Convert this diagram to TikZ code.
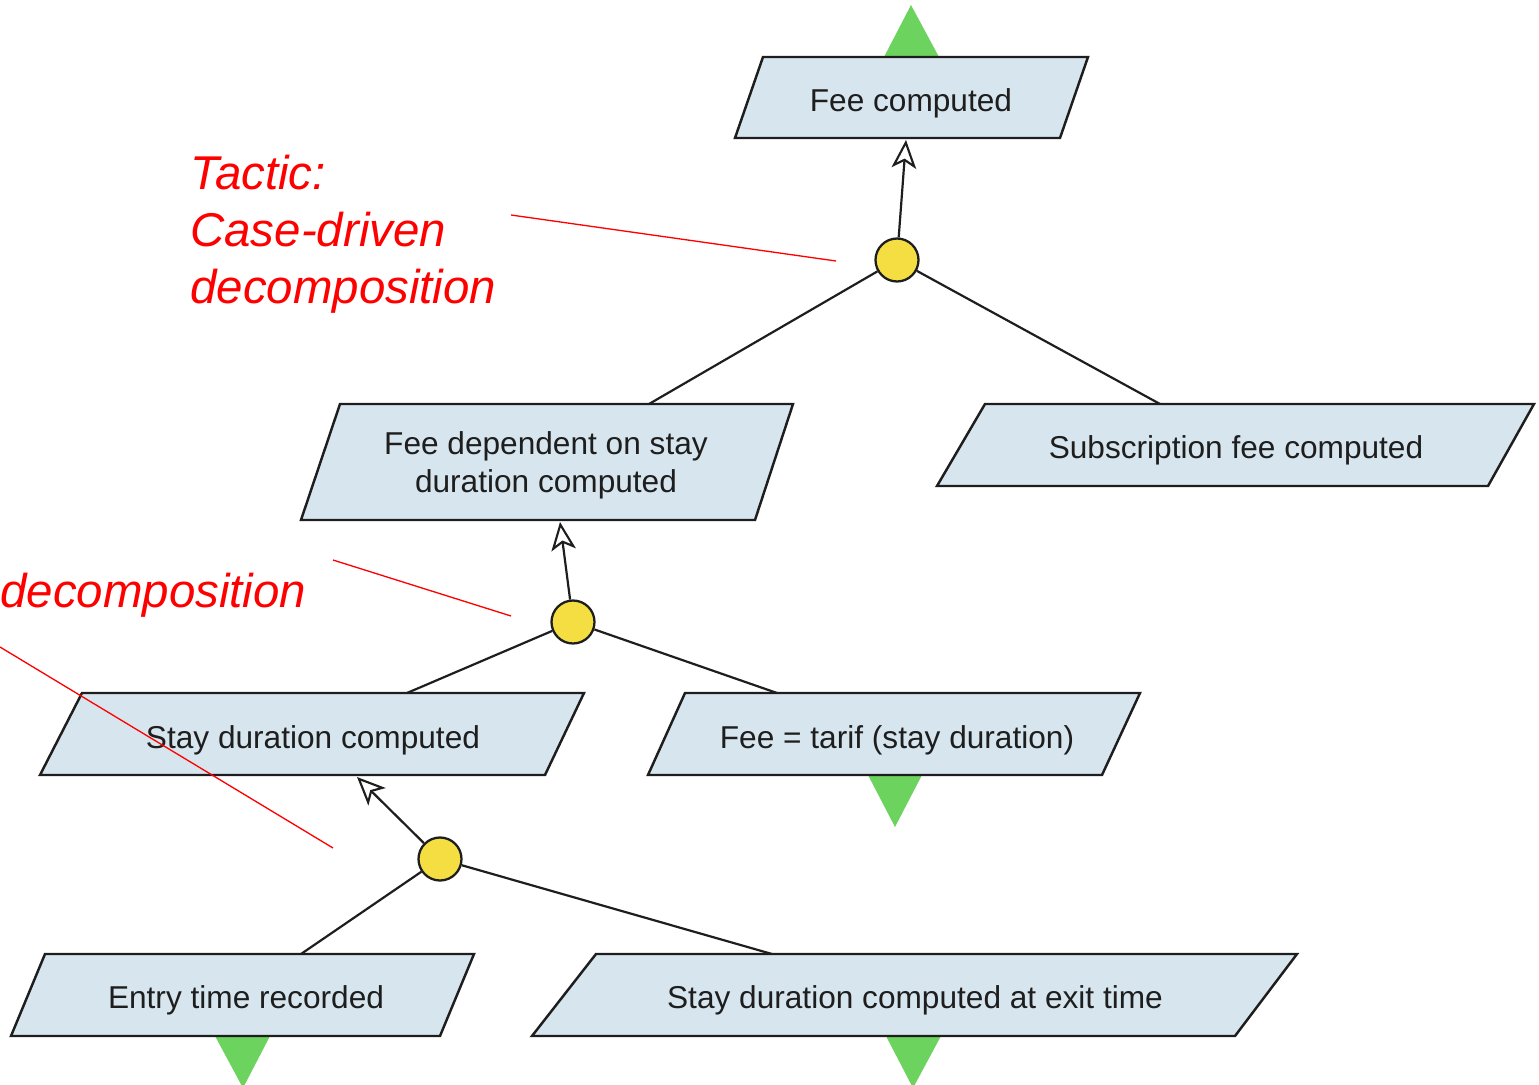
\documentclass[tikz,border=0pt]{standalone}
\usepackage{fontspec}
\setmainfont{Liberation Sans}
\usetikzlibrary{arrows.meta}

\definecolor{boxfill}{RGB}{215,230,238}
\definecolor{knotfill}{RGB}{245,222,66}
\definecolor{goalgreen}{RGB}{108,211,94}
\definecolor{ink}{RGB}{30,30,30}

\tikzset{
  goalbox/.style={draw=ink, line width=1.4pt, fill=boxfill, line join=miter},
  goaltext/.style={text=ink, font=\fontsize{18}{22}\selectfont, align=center, inner sep=0pt, anchor=north},
  knot/.style={circle, draw=ink, line width=1.3pt, fill=knotfill, minimum size=0.86cm, inner sep=0pt},
  link/.style={draw=ink, line width=1.25pt},
  refine/.style={link, -{Stealth[open, fill=white, length=16pt, width=14pt, inset=4pt, line width=1.2pt]}},
  tactic/.style={text=red, font=\fontsize{27}{32.3}\selectfont\itshape, inner sep=0pt, align=left},
  tacticline/.style={red, line width=0.75pt},
  tipmark/.style={fill=goalgreen, draw=none}
}

\begin{document}
\begin{tikzpicture}[x=0.02cm, y=-0.02cm]
  \useasboundingbox (0,0) rectangle (1539,1085);

  % green goal markers
  \fill[tipmark] (884,57) -- (911,5) -- (939,57) -- cycle;
  \fill[tipmark] (868,775) -- (895,827) -- (922,775) -- cycle;
  \fill[tipmark] (215,1036) -- (243,1088) -- (270,1036) -- cycle;
  \fill[tipmark] (886,1036) -- (913,1088) -- (941,1036) -- cycle;

  % goal boxes
  \draw[goalbox] (763,57) -- (1088,57) -- (1060,138) -- (735,138) -- cycle;
  \node[goaltext] (feec) at (911,88) {Fee computed};

  \draw[goalbox] (340,404) -- (793,404) -- (755,520) -- (301,520) -- cycle;
  \node[goaltext] (feedep) at (546,431) {Fee dependent on stay\\duration computed};

  \draw[goalbox] (985,404) -- (1534,404) -- (1488,486) -- (937,486) -- cycle;
  \node[goaltext] (subfee) at (1236,435) {Subscription fee computed};

  \draw[goalbox] (82,693) -- (584,693) -- (545,775) -- (40,775) -- cycle;
  \node[goaltext] (staydur) at (313,725) {Stay duration computed};

  \draw[goalbox] (685,693) -- (1140,693) -- (1102,775) -- (648,775) -- cycle;
  \node[goaltext] (tarif) at (897,725) {Fee = tarif (stay duration)};

  \draw[goalbox] (45,954) -- (474,954) -- (440,1036) -- (11,1036) -- cycle;
  \node[goaltext] (entry) at (246,985) {Entry time recorded};

  \draw[goalbox] (596,954) -- (1297,954) -- (1235,1036) -- (532,1036) -- cycle;
  \node[goaltext] (exit) at (915,985) {Stay duration computed at exit time};

  % attachment points on the box edges
  \coordinate (feec-in) at (906,140);
  \coordinate (feedep-in) at (560,522);
  \coordinate (staydur-in) at (357,777);
  \coordinate (feedep-out) at (649,404);
  \coordinate (subfee-out) at (1160,404);
  \coordinate (staydur-out) at (407,693);
  \coordinate (tarif-out) at (777,693);
  \coordinate (entry-out) at (301,954);
  \coordinate (exit-out) at (772,954);

  % refinement nodes
  \node[knot] (k1) at (897,260) {};
  \node[knot] (k2) at (573,622) {};
  \node[knot] (k3) at (440,859) {};

  % refinement links
  \draw[refine] (k1) -- (feec-in);
  \draw[link] (k1) -- (feedep-out);
  \draw[link] (k1) -- (subfee-out);

  \draw[refine] (k2) -- (feedep-in);
  \draw[link] (k2) -- (staydur-out);
  \draw[link] (k2) -- (tarif-out);

  \draw[refine] (k3) -- (staydur-in);
  \draw[link] (k3) -- (entry-out);
  \draw[link] (k3) -- (exit-out);

  % tactic annotations
  \node[tactic, anchor=north west] (t1) at (190,155) {Tactic:\\Case-driven\\decomposition};
  \node[tactic, anchor=base west] (t2) at (0,607) {decomposition};

  \coordinate (t1-a) at (511,215);
  \coordinate (t1-b) at (836,261);
  \coordinate (t2-a) at (333,560);
  \coordinate (t2-b) at (511,616);
  \coordinate (t3-a) at (0,647);
  \coordinate (t3-b) at (333,848);
  \draw[tacticline] (t1-a) -- (t1-b);
  \draw[tacticline] (t2-a) -- (t2-b);
  \draw[tacticline] (t3-a) -- (t3-b);
\end{tikzpicture}
\end{document}
